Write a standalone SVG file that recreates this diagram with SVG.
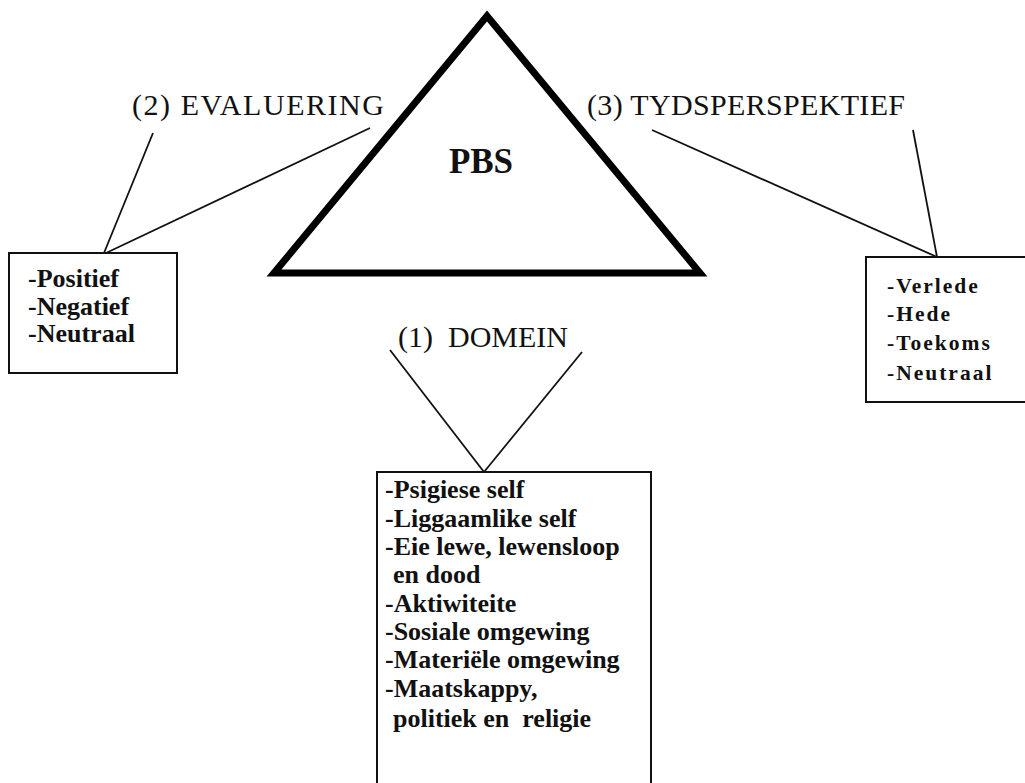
<svg xmlns="http://www.w3.org/2000/svg" width="1025" height="783" viewBox="0 0 1025 783">
  <style>
    .label { font-family: "Liberation Serif", "Times New Roman", serif; font-size: 30px; fill: #111; }
    .item { font-family: "Liberation Serif", "Times New Roman", serif; font-size: 26px; font-weight: bold; fill: #111; }
    .time { font-size: 21.5px; letter-spacing: 2px; }
    .box { fill: #fff; stroke: #111; stroke-width: 2; }
    .link { stroke: #111; stroke-width: 1.8; fill: none; }
  </style>
  <rect width="1025" height="783" fill="#fff"/>

  <!-- central triangle -->
  <g id="pbs">
    <polygon points="487,16 274,273 700,273" fill="#fff" stroke="#000" stroke-width="7" stroke-linejoin="miter"/>
    <text x="481" y="173" text-anchor="middle" style="font-family: 'Liberation Serif', 'Times New Roman', serif; font-size: 35px; font-weight: bold; fill: #111;">PBS</text>
  </g>

  <!-- connectors from labels to their boxes -->
  <g id="connectors">
    <line class="link" x1="153" y1="133" x2="104" y2="253"/>
    <line class="link" x1="370" y1="128" x2="106" y2="253"/>
    <line class="link" x1="652" y1="130" x2="937" y2="257"/>
    <line class="link" x1="913" y1="130" x2="937" y2="257"/>
    <line class="link" x1="390" y1="350" x2="484" y2="472"/>
    <line class="link" x1="582" y1="352" x2="484" y2="472"/>
  </g>

  <!-- (2) evaluation -->
  <g id="evaluering">
    <text class="label" x="132" y="115" textLength="252" lengthAdjust="spacing">(2) EVALUERING</text>
    <rect class="box" x="9" y="253" width="168" height="120"/>
    <text class="item" x="28" y="287">-Positief</text>
    <text class="item" x="28" y="315">-Negatief</text>
    <text class="item" x="28" y="342">-Neutraal</text>
  </g>

  <!-- (3) time perspective -->
  <g id="tydsperspektief">
    <text class="label" x="587" y="115" textLength="318" lengthAdjust="spacing">(3) TYDSPERSPEKTIEF</text>
    <rect class="box" x="866" y="257" width="170" height="145"/>
    <text class="item time" x="887" y="293">-Verlede</text>
    <text class="item time" x="887" y="321">-Hede</text>
    <text class="item time" x="887" y="350">-Toekoms</text>
    <text class="item time" x="887" y="380">-Neutraal</text>
  </g>

  <!-- (1) domain -->
  <g id="domein">
    <text class="label" x="398" y="347" textLength="170" lengthAdjust="spacing" xml:space="preserve">(1)  DOMEIN</text>
    <rect class="box" x="377" y="472" width="274" height="330"/>
    <text class="item" x="385" y="498">-Psigiese self</text>
    <text class="item" x="385" y="527">-Liggaamlike self</text>
    <text class="item" x="385" y="555">-Eie lewe, lewensloop</text>
    <text class="item" x="393" y="583">en dood</text>
    <text class="item" x="385" y="612">-Aktiwiteite</text>
    <text class="item" x="385" y="640">-Sosiale omgewing</text>
    <text class="item" x="385" y="668">-Materiële omgewing</text>
    <text class="item" x="385" y="697">-Maatskappy,</text>
    <text class="item" x="393" y="727" xml:space="preserve">politiek en  religie</text>
  </g>
</svg>
